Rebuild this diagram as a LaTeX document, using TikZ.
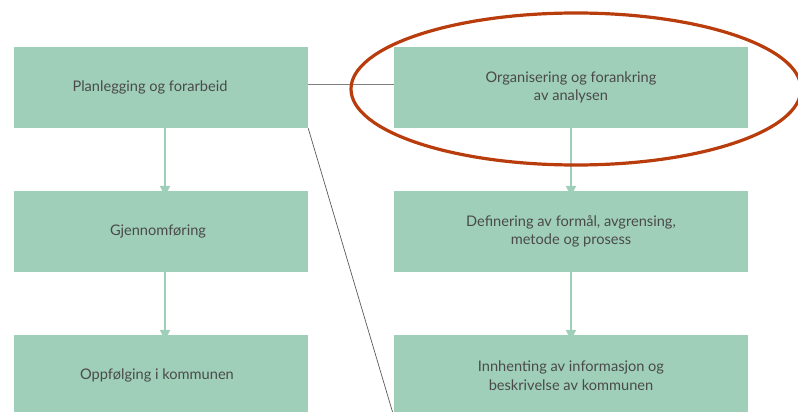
\documentclass[tikz,border=0pt]{standalone}
\usepackage{fontspec}
\setmainfont{Lato}
\usetikzlibrary{arrows.meta}
\definecolor{boxgreen}{HTML}{9FCFB8}
\definecolor{txtgray}{HTML}{4A4A4A}
\definecolor{ringred}{HTML}{B83C0C}
\begin{document}
\begin{tikzpicture}[x=1pt,y=-1pt,
  box/.style={fill=boxgreen, minimum width=294pt, minimum height=81pt, inner sep=0pt,
    text=txtgray, align=center, font=\fontsize{14.6}{18.5}\selectfont},
  wbox/.style={box, minimum width=354pt},
  flow/.style={boxgreen, line width=1.8pt, -{Triangle[width=10pt,length=11pt]}}]
\useasboundingbox (0,0) rectangle (798,412);
\node[box] (1) at (161,87.5) {\hspace*{-22pt}Planlegging og forarbeid};
\node[box] (2) at (161,231.5) {\hspace*{-6pt}Gjennomføring};
\node[box] (3) at (161,375.5) {\hspace*{-8pt}Oppfølging i kommunen};
\node[wbox] (4) at (571,87.5) {Organisering og forankring\\av analysen};
\node[wbox] (5) at (571,231.5) {Definering av formål, avgrensing,\\metode og prosess};
\node[wbox] (6) at (571,375.5) {Innhenting av informasjon og\\beskrivelse av kommunen};

\path[draw,flow] ([xshift=4pt,yshift=6pt]1.south) -- ([xshift=4pt,yshift=-6pt]2.north);
\path[draw,flow] ([xshift=4pt,yshift=6pt]2.south) -- ([xshift=4pt,yshift=-6pt]3.north);
\path[draw,flow] ([yshift=6pt]4.south) -- ([yshift=-6pt]5.north);
\path[draw,flow] ([yshift=6pt]5.south) -- ([yshift=-6pt]6.north);

\path[draw,gray,line width=1.2pt] ([yshift=3pt]1.east) -- ([yshift=3pt]4.west);
\path[draw,black!65,line width=0.7pt] (1.south east) -- (6.south west);

\draw[ringred,line width=3.2pt] (576,89) ellipse [x radius=225, y radius=76];
\end{tikzpicture}
\end{document}
